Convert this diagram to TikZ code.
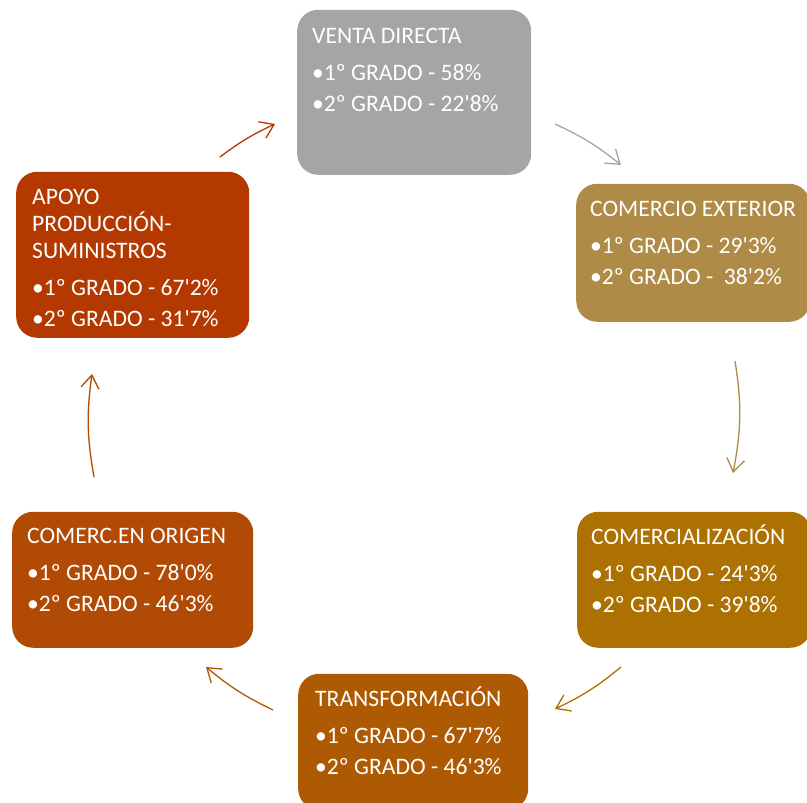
\documentclass[tikz,border=0pt]{standalone}
\usepackage{fontspec}
\newfontfamily\carl{Carlito}
\usetikzlibrary{arrows.meta}
\definecolor{cGray}{HTML}{A5A5A5}
\definecolor{cTan}{HTML}{AE8B46}
\definecolor{cGold}{HTML}{AC7100}
\definecolor{cOrange}{HTML}{AE5A02}
\definecolor{cRust}{HTML}{B14A04}
\definecolor{cRed}{HTML}{B33900}
\newcommand\bxtitle[1]{\hbox{#1}}
\newcommand\bxrest[2]{\vskip 10pt\hbox{•1º GRADO - #1}\vskip 4pt\hbox{•2º GRADO - #2}}
\begin{document}
\begin{tikzpicture}[x=1pt,y=1pt,
  box/.style={draw=none, rounded corners=21pt, inner sep=0pt, anchor=south west},
  lbl/.style={anchor=base west, inner sep=0pt, text=white,
    font=\carl\fontsize{23.6}{27}\selectfont},
  cyc/.style={line width=1.3pt, -{Straight Barb[length=13pt,width=18pt]}},
]
\useasboundingbox (0,0) rectangle (807,803);
% boxes
\node[box, fill=cGray,   minimum width=234pt, minimum height=165pt] (venta) at (297,628) {};
\node[box, fill=cTan,    minimum width=234pt, minimum height=138pt] (exterior) at (576,481) {};
\node[box, fill=cGold,   minimum width=234pt, minimum height=136pt] (comerc) at (577,155) {};
\node[box, fill=cOrange, minimum width=230pt, minimum height=136pt] (transf) at (298,-7) {};
\node[box, fill=cRust,   minimum width=241pt, minimum height=136pt] (origen) at (12,155) {};
\node[box, fill=cRed,    minimum width=233pt, minimum height=166pt] (apoyo) at (16,465) {};
% texts
\node[lbl] (tventa) at (312,759) {\vtop{\bxtitle{VENTA DIRECTA}\bxrest{58\%}{22'8\%}}};
\node[lbl] (texterior) at (590,586) {\vtop{\bxtitle{COMERCIO EXTERIOR}\bxrest{29'3\%}{\ 38'2\%}}};
\node[lbl] (tcomerc) at (591,258) {\vtop{\bxtitle{COMERCIALIZACIÓN}\bxrest{24'3\%}{39'8\%}}};
\node[lbl] (ttransf) at (315,96) {\vtop{\bxtitle{TRANSFORMACIÓN}\bxrest{67'7\%}{46'3\%}}};
\node[lbl] (torigen) at (27,259) {\vtop{\bxtitle{COMERC.EN ORIGEN}\bxrest{78'0\%}{46'3\%}}};
\node[lbl] (tapoyo) at (32,598) {\vtop{\bxtitle{APOYO}\bxtitle{PRODUCCIÓN-}\bxtitle{SUMINISTROS}\bxrest{67'2\%}{31'7\%}}};
% connectors
\coordinate (a1s) at (220,646); \coordinate (a1e) at (275,679);
\coordinate (a2s) at (555,679); \coordinate (a2e) at (621,638);
\coordinate (a3s) at (735,442); \coordinate (a3e) at (733,330);
\coordinate (a4s) at (621,136); \coordinate (a4e) at (555,94);
\coordinate (a5s) at (273,93);  \coordinate (a5e) at (206,136);
\coordinate (a6s) at (94,326);  \coordinate (a6e) at (92,429);
\draw[cyc, draw=cRed]    (a1s) to[bend left=6] (a1e);
\draw[cyc, draw=cGray]   (a2s) to[bend left=7] (a2e);
\draw[cyc, draw=cTan]    (a3s) to[bend left=10] (a3e);
\draw[cyc, draw=cGold]   (a4s) to[bend left=7] (a4e);
\draw[cyc, draw=cOrange] (a5s) to[bend left=7] (a5e);
\draw[cyc, draw=cRust]   (a6s) to[bend left=9] (a6e);
\end{tikzpicture}
\end{document}
